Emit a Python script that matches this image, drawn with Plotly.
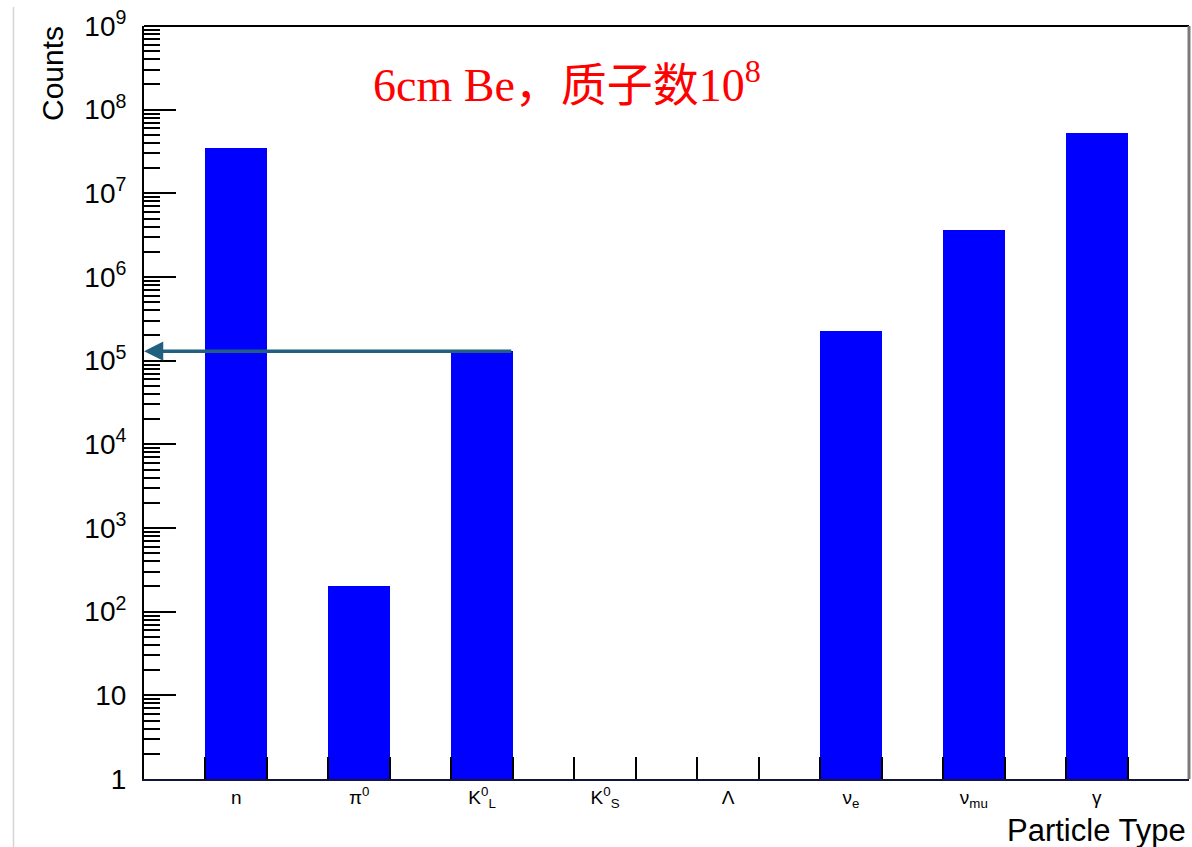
import numpy as np
import plotly.graph_objects as go

# Particle yields per type (counts), empty bins left as None
particles = ["n", "π<sup>0</sup>", "K<sup>0</sup><sub>L</sub>", "K<sup>0</sup><sub>S</sub>",
             "Λ", "ν<sub>e</sub>", "ν<sub>mu</sub>", "γ"]
counts = [3.5e7, 200, 1.3e5, None, None, 2.26e5, 3.6e6, 5.2e7]

# y tick labels (decades)
decades = list(range(0, 10))
decade_labels = ["1", "10"] + [f"10<sup>{d}</sup>" for d in range(2, 10)]

W, H = 1192, 847
L, R, T, B = 144, 3, 26, 68
pw, ph = W - L - R, H - T - B

xpos = list(range(len(particles)))

fig = go.Figure()
fig.add_trace(go.Bar(
    x=xpos, y=counts, width=0.5,
    marker=dict(color="#0000ff", line=dict(width=0)),
    hoverinfo="skip",
))

tickfont = dict(family="Liberation Sans, Arial, sans-serif", size=28, color="#000000")

minor_y = [m * 10 ** d for d in range(0, 9) for m in range(2, 10)]
minor_x = [i - 0.25 for i in range(len(particles))] + [i + 0.25 for i in range(len(particles))]

fig.update_layout(
    width=W, height=H,
    margin=dict(l=L, r=R, t=T, b=B),
    paper_bgcolor="white", plot_bgcolor="white",
    showlegend=False,
    bargap=0,
    xaxis=dict(
        range=[-0.75, len(particles) - 0.25],
        tickmode="array", tickvals=xpos, ticktext=particles,
        ticks="", ticklen=0,
        tickfont=dict(family="Liberation Sans, Arial, sans-serif", size=19, color="#000000"),
        showgrid=False, zeroline=False,
        showline=True, linecolor="#14143c", linewidth=2,
        minor=dict(tickmode="array", tickvals=sorted(minor_x), ticks="inside",
                   ticklen=22, tickwidth=1.5, tickcolor="#000000", showgrid=False),
        fixedrange=True,
    ),
    yaxis=dict(
        type="log", range=[0, 9],
        tickmode="array", tickvals=[10 ** d for d in decades], ticktext=decade_labels,
        ticks="inside", ticklen=32, tickwidth=1.5, tickcolor="#000000",
        tickfont=tickfont, ticklabelstandoff=10,
        showgrid=False, zeroline=False,
        showline=True, linecolor="#000000", linewidth=2,
        minor=dict(tickmode="array", tickvals=minor_y, ticks="inside",
                   ticklen=16, tickwidth=1.5, tickcolor="#000000", showgrid=False),
        fixedrange=True,
    ),
)

# Frame: top edge and right edge of the pad
fig.add_shape(type="line", xref="paper", yref="paper", x0=0, x1=1, y0=1, y1=1,
              line=dict(color="#000000", width=2))
fig.add_shape(type="line", xref="paper", yref="paper", x0=1, x1=1, y0=0, y1=1,
              line=dict(color="#7a7a7a", width=3))
# Canvas border on the far left
fig.add_shape(type="line", xref="paper", yref="paper",
              x0=(13.5 - L) / pw, x1=(13.5 - L) / pw,
              y0=(H - B - H) / ph, y1=(H - B - 7) / ph,
              line=dict(color="#d4d4d4", width=1.5))

# Axis titles
fig.add_annotation(text="Counts", xref="paper", yref="paper",
                   x=(52 - L) / pw, y=(H - B - 74) / ph, textangle=-90,
                   showarrow=False, xanchor="center", yanchor="middle",
                   font=dict(family="Liberation Sans, Arial, sans-serif", size=30, color="#000000"))
fig.add_annotation(text="Particle Type", xref="paper", yref="paper",
                   x=(1188 - L) / pw, y=(H - B - 830) / ph,
                   showarrow=False, xanchor="right", yanchor="middle",
                   font=dict(family="Liberation Sans, Arial, sans-serif", size=31, color="#000000"))

# Title text in red
fig.add_annotation(text="6cm Be，质子数10<sup>8</sup>", xref="paper", yref="paper",
                   x=(567 - L) / pw, y=(H - B - 82) / ph,
                   showarrow=False, xanchor="center", yanchor="middle",
                   font=dict(family="Liberation Serif, Noto Sans CJK SC, serif", size=46, color="#ff0000"))

# Arrow from the K_L bar top to the y axis
kl_idx = 2
kl_val = counts[kl_idx]
fig.add_annotation(
    x=-0.75, y=np.log10(kl_val), xref="x", yref="y",
    ax=kl_idx + 0.25, ay=np.log10(kl_val), axref="x", ayref="y",
    showarrow=True, arrowhead=2, arrowsize=1.1, arrowwidth=3.5,
    arrowcolor="#22607f", text="",
)

fig.write_html("out.html")
